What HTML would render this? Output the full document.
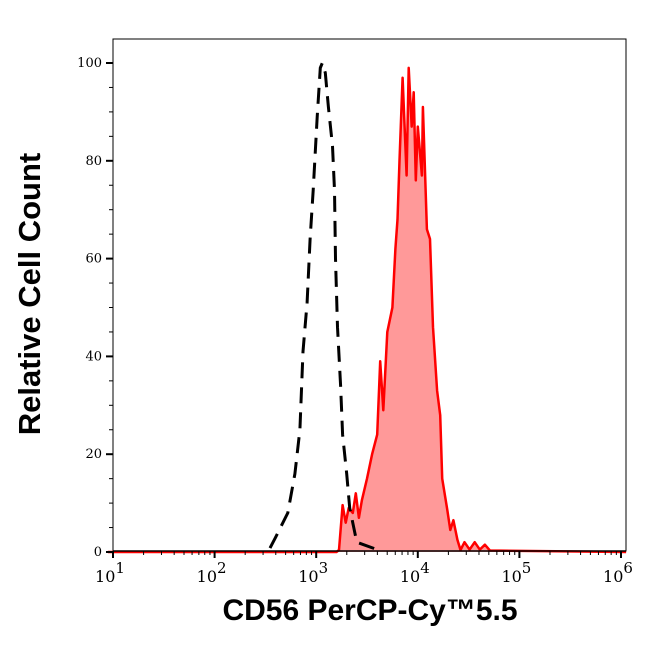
<!DOCTYPE html>
<html><head><meta charset="utf-8"><style>
body{margin:0;background:#fff;}
svg text{font-family:"DejaVu Serif","Liberation Serif",serif;}
</style></head><body>
<svg id="chart" width="646" height="641" xmlns="http://www.w3.org/2000/svg">
<rect x="113" y="39" width="513" height="512" fill="none" stroke="#000" stroke-width="1"/>
<g id="marks"></g>
<g id="axes"></g>
<text x="40" y="294" transform="rotate(-90 40 294)" text-anchor="middle" style="font-family:'Liberation Sans',sans-serif;font-weight:bold;font-size:31px">Relative Cell Count</text>
<text x="370" y="620" text-anchor="middle" style="font-family:'Liberation Sans',sans-serif;font-weight:bold;font-size:30px">CD56 PerCP-Cy™5.5</text>
</svg>
<script>
const controlLog=[2.545,2.6,2.72,2.79,2.84,2.87,2.91,2.94,2.97,3.01,3.04,3.06,3.09,3.12,3.16,3.18,3.19,3.21,3.24,3.26,3.30,3.33,3.40,3.60];
const controlCount=[0.8,3,8,16,25,41,51,64,74,89,99,100,98,91,83,74,60,46,34,24,16,9,2,0.5];
const stainedLog=[0.95,3.2,3.224,3.26,3.29,3.32,3.36,3.39,3.42,3.45,3.50,3.55,3.60,3.63,3.66,3.70,3.75,3.78,3.80,3.82,3.85,3.89,3.91,3.94,3.96,3.98,4.00,4.04,4.05,4.09,4.12,4.15,4.19,4.22,4.24,4.29,4.32,4.35,4.39,4.42,4.46,4.51,4.56,4.61,4.66,4.71,6.05];
const stainedCount=[0,0,0.4,9.6,6,9,8,12,7,10.6,15,20,24,39,29,45,50,62,68,80,97,77,99,87,94,76,87,77,91,66,64,46,33,28,15,8.6,4.5,6.5,2.5,0.4,2,0.5,2,0.5,1.5,0.3,0];
const yTicks=[0,20,40,60,80,100];
const xDecades=[1,2,3,4,5,6];
const NS="http://www.w3.org/2000/svg";
const X=l=>113+(l-1)*101.6;
const Y=v=>552-v*4.89;
const marks=document.getElementById('marks'),axes=document.getElementById('axes');
function mk(t,a,p){const e=document.createElementNS(NS,t);for(const k in a)e.setAttribute(k,a[k]);p.appendChild(e);return e;}
let d=stainedLog.map((l,i)=>(i?'L':'M')+X(l).toFixed(1)+','+Y(stainedCount[i]).toFixed(1)).join('');
const fill=mk('path',{d:d+'L'+X(6.05)+','+Y(0)+'L'+X(0.95)+','+Y(0)+'Z',fill:'#ff9999',stroke:'none'},marks);


const line=mk('path',{d:d,fill:'none',stroke:'#ff0000','stroke-width':2.5,'stroke-linejoin':'round'},marks);


let dc=controlLog.map((l,i)=>(i?'L':'M')+X(l).toFixed(1)+','+Y(controlCount[i]).toFixed(1)).join('');
const ctl=mk('path',{d:dc,fill:'none',stroke:'#000','stroke-width':3,'stroke-dasharray':'16,9'},marks);


mk('line',{x1:113,y1:551,x2:626,y2:551,stroke:'#000','stroke-width':1.5},axes);
for(let v=0;v<=100;v+=5){const maj=v%20===0;mk('line',{x1:113-(maj?7:4),y1:Y(v),x2:113,y2:Y(v),stroke:'#000','stroke-width':maj?2:1},axes);}
yTicks.forEach(v=>{const t=mk('text',{x:102,y:Y(v)+4,'text-anchor':'end','font-size':13},axes);t.textContent=v;

});
xDecades.forEach(dd=>{mk('line',{x1:X(dd),y1:551,x2:X(dd),y2:558,stroke:'#000','stroke-width':2},axes);
if(dd<6)for(let k=2;k<10;k++){const xx=X(dd+Math.log10(k));mk('line',{x1:xx,y1:551,x2:xx,y2:555,stroke:'#000','stroke-width':1},axes);}
const t=mk('text',{x:X(dd)-3,y:582,'text-anchor':'middle','font-size':16},axes);
t.innerHTML='10<tspan dy="-9" font-size="15">'+dd+'</tspan>';

});
</script>
</body></html>
